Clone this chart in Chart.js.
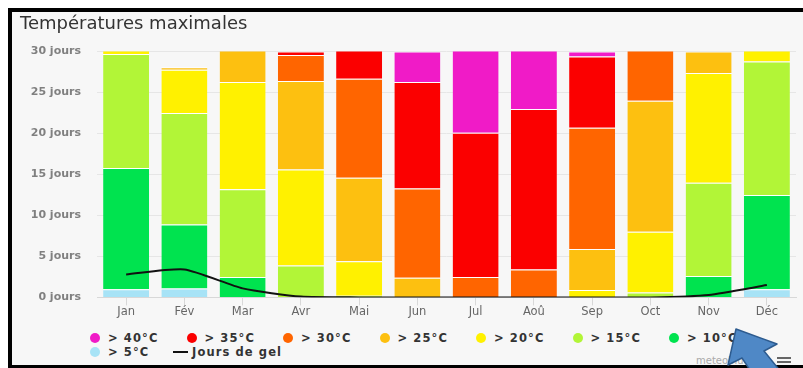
<!DOCTYPE html>
<html>
<head>
<meta charset="utf-8">
<script src="https://cdn.jsdelivr.net/npm/chart.js@4.4.1/dist/chart.umd.min.js"></script>
<style>
  html, body { margin: 0; padding: 0; background: #fff; width: 803px; height: 368px; overflow: hidden; }
  #frame {
    position: absolute; left: 8px; top: 8px; width: 791px; height: 353px;
    border-left: 4px solid #000; border-top: 4px solid #000; border-bottom: 3px solid #000;
    background: #f7f7f7; overflow: hidden;
  }
  #chart { position: absolute; left: 0; top: 0; }
  .legend-row { position: absolute; left: 78px; height: 14px; display: flex; align-items: center; }
  .item { display: flex; align-items: center; font-family: "DejaVu Sans"; font-weight: bold; font-size: 11.5px; letter-spacing: 1.1px; color: #333; white-space: nowrap; }
  .dot { width: 10px; height: 10px; border-radius: 50%; margin-right: 8px; flex: none; }
  .dash { width: 15px; height: 2px; background: #111; margin-right: 4px; flex: none; }
  #credit { position: absolute; left: 684px; top: 343px; font-family: "DejaVu Sans"; font-size: 10px; color: #aaa; }
  #menu { position: absolute; left: 765px; top: 345px; width: 14px; }
  #menu div { height: 2px; background: #666; margin-bottom: 2px; }
  #arrow { position: absolute; left: 0; top: 0; }
</style>
</head>
<body>
<div id="frame">
  <canvas id="chart" width="791" height="308"></canvas>
  <div id="row1" class="legend-row" style="top:319px"></div>
  <div id="row2" class="legend-row" style="top:333px"></div>
  <div id="credit">meteoblue</div>
  <div id="menu"><div></div><div></div><div></div></div>
</div>
<svg id="arrow" width="803" height="368">
  <polygon points="736,329 777,344 764,351 781,372 754,376 742,358 728,365"
           fill="#4f88c6" stroke="#2d5b8f" stroke-width="1.5" stroke-linejoin="round"/>
</svg>
<script>
// months
var months = ['Jan', 'Fév', 'Mar', 'Avr', 'Mai', 'Jun', 'Jul', 'Aoû', 'Sep', 'Oct', 'Nov', 'Déc'];

// days per month with max temperature in each class (bottom of stack first)
var over5  = [1.0, 1.1, 0, 0, 0, 0, 0, 0, 0, 0, 0, 1.0];
var over10 = [14.8, 7.8, 2.5, 0, 0, 0, 0, 0, 0, 0, 2.6, 11.5];
var over15 = [13.9, 13.6, 10.7, 3.9, 0.2, 0, 0, 0, 0, 0.6, 11.4, 16.3];
var over20 = [1.3, 5.3, 13.1, 11.7, 4.2, 0, 0, 0, 0.9, 7.4, 13.4, 2.2];
var over25 = [0, 0.3, 4.7, 10.8, 10.2, 2.4, 0, 0, 5.0, 16.0, 2.6, 0];
var over30 = [0, 0, 0, 3.2, 12.1, 10.9, 2.5, 3.4, 14.8, 7.0, 0, 0];
var over35 = [0, 0, 0, 0.4, 4.3, 13.0, 17.6, 19.6, 8.7, 0, 0, 0];
var over40 = [0, 0, 0, 0, 0, 3.7, 10.9, 8.0, 0.6, 0, 0, 0];

// frost days
var frostDays = [2.8, 3.4, 1.1, 0.1, 0, 0, 0, 0, 0, 0, 0.3, 1.5];

// y axis ticks
var yMax = 30;
var yStep = 5;

var classLabels = ['> 5°C', '> 10°C', '> 15°C', '> 20°C', '> 25°C', '> 30°C', '> 35°C', '> 40°C'];
var classValues = [over5, over10, over15, over20, over25, over30, over35, over40];
var classColors = ['#a7e3f6', '#00e34f', '#b2f537', '#fff100', '#fdc010', '#ff6500', '#fb0000', '#f01bc7'];

var font = 'DejaVu Sans';

/* line first so it is drawn on top, bars stack from the first one up */
var datasets = [{
    type: 'line',
    label: 'Jours de gel',
    data: frostDays,
    stack: 'gel',
    borderColor: '#111',
    borderWidth: 2,
    pointRadius: 0,
    tension: 0.2
}];
classLabels.forEach(function (label, i) {
    datasets.push({
        label: label,
        data: classValues[i],
        backgroundColor: classColors[i],
        borderColor: '#ffffff',
        borderWidth: { top: 1, bottom: 0, left: 0, right: 0 },
        borderSkipped: false,
        categoryPercentage: 0.79,
        barPercentage: 1
    });
});

new Chart(document.getElementById('chart'), {
    type: 'bar',
    data: { labels: months, datasets: datasets },
    options: {
        responsive: false,
        animation: false,
        devicePixelRatio: 1,
        layout: { padding: { left: 8, right: 7, top: 0, bottom: 0 } },
        plugins: {
            legend: { display: false },
            tooltip: { enabled: false },
            title: {
                display: true,
                text: 'Températures maximales',
                align: 'start',
                color: '#333',
                font: { family: font, size: 18, weight: 'normal' },
                padding: { top: 2, bottom: 16 }
            }
        },
        scales: {
            x: {
                stacked: true,
                offset: true,
                grid: { offset: false, drawOnChartArea: false, drawTicks: true, tickLength: 8, tickColor: '#d8d8d8' },
                border: { color: '#d8d8d8' },
                ticks: { padding: 0, color: '#666', autoSkip: false, maxRotation: 0, font: { family: font, size: 11.5 } }
            },
            y: {
                stacked: true,
                min: 0,
                max: yMax,
                grid: { color: '#e6e6e6', drawTicks: false },
                border: { display: false },
                ticks: {
                    stepSize: yStep,
                    padding: 16,
                    color: '#808080',
                    font: { family: font, size: 11, weight: 'bold' },
                    callback: function (v) { return v + ' jours'; }
                },
                afterFit: function (scale) { scale.width = 77; }
            }
        }
    }
});

/* legend, same order as the original: hottest first */
function legendItem(label, color, width) {
    var el = document.createElement('div');
    el.className = 'item';
    if (width) el.style.width = width + 'px';
    var mark = document.createElement('span');
    mark.className = color ? 'dot' : 'dash';
    if (color) mark.style.background = color;
    el.appendChild(mark);
    el.appendChild(document.createTextNode(label));
    return el;
}
var row1 = document.getElementById('row1');
var row2 = document.getElementById('row2');
for (var i = classLabels.length - 1; i >= 1; i--) {
    row1.appendChild(legendItem(classLabels[i], classColors[i], 96.5));
}
row2.appendChild(legendItem(classLabels[0], classColors[0], 83));
row2.appendChild(legendItem('Jours de gel', null));
</script>
</body>
</html>
